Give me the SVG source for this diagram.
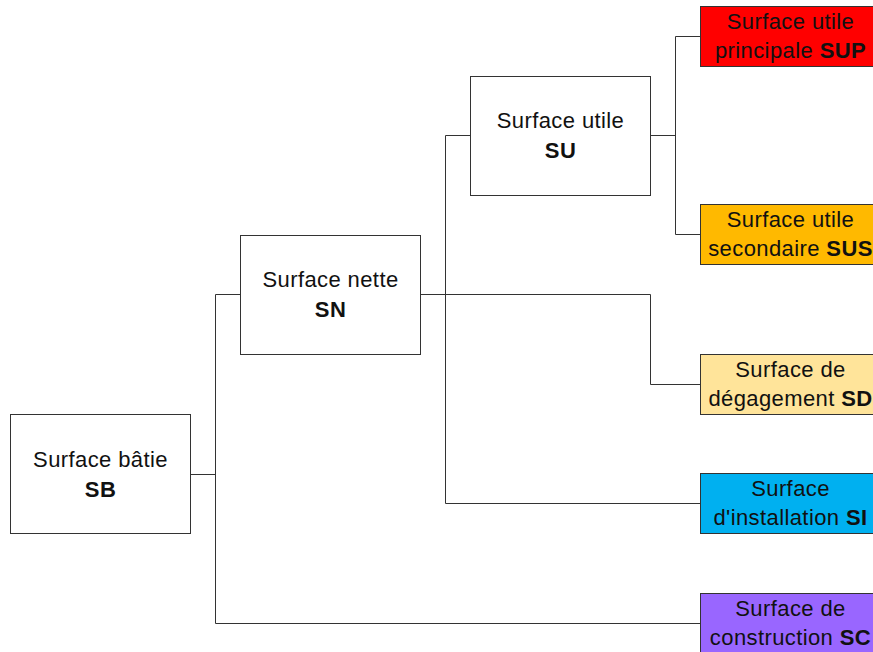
<svg xmlns="http://www.w3.org/2000/svg" width="873" height="652" viewBox="0 0 873 652">
<style>
.box{stroke:#333;stroke-width:1}
text{font-family:"Liberation Sans",Arial,sans-serif;font-size:22px;letter-spacing:0.4px;fill:#111;text-anchor:middle}
.b{font-weight:bold}
.c{fill:none;stroke:#333;stroke-width:1}
</style>
<rect width="873" height="652" fill="#fff"/>
<g id="connectors">
<polyline class="c" points="190.5,474.5 215.5,474.5"/>
<polyline class="c" points="240.5,294.5 215.5,294.5 215.5,623.5 700.5,623.5"/>
<polyline class="c" points="420.5,294.5 650.5,294.5 650.5,384.5 700.5,384.5"/>
<polyline class="c" points="470.5,135.5 445.5,135.5 445.5,503.5 700.5,503.5"/>
<polyline class="c" points="650.5,135.5 675.5,135.5"/>
<polyline class="c" points="700.5,36.5 675.5,36.5 675.5,234.5 700.5,234.5"/>
</g>
<g id="SB">
<rect class="box" x="10.5" y="414.5" width="180" height="119" fill="#fff"/>
<text x="100.5" y="467">Surface bâtie</text>
<text class="b" x="100.5" y="497">SB</text>
</g>
<g id="SN">
<rect class="box" x="240.5" y="235.5" width="180" height="119" fill="#fff"/>
<text x="330.5" y="287">Surface nette</text>
<text class="b" x="330.5" y="317">SN</text>
</g>
<g id="SU">
<rect class="box" x="470.5" y="76.5" width="180" height="119" fill="#fff"/>
<text x="560.5" y="128">Surface utile</text>
<text class="b" x="560.5" y="158">SU</text>
</g>
<g id="SUP">
<rect class="box" x="700.5" y="6.5" width="180" height="60" fill="#ff0000"/>
<text x="790.5" y="29">Surface utile</text>
<text x="790.5" y="58">principale <tspan class="b">SUP</tspan></text>
</g>
<g id="SUS">
<rect class="box" x="700.5" y="204.5" width="180" height="60" fill="#ffb900"/>
<text x="790.5" y="227">Surface utile</text>
<text x="790.5" y="256">secondaire <tspan class="b">SUS</tspan></text>
</g>
<g id="SD">
<rect class="box" x="700.5" y="354.5" width="180" height="60" fill="#ffe49a"/>
<text x="790.5" y="377">Surface de</text>
<text x="790.5" y="406">dégagement <tspan class="b">SD</tspan></text>
</g>
<g id="SI">
<rect class="box" x="700.5" y="473.5" width="180" height="60" fill="#00b0f0"/>
<text x="790.5" y="496">Surface</text>
<text x="790.5" y="525">d'installation <tspan class="b">SI</tspan></text>
</g>
<g id="SC">
<rect class="box" x="700.5" y="593.5" width="180" height="60" fill="#9966ff"/>
<text x="790.5" y="616">Surface de</text>
<text x="790.5" y="645">construction <tspan class="b">SC</tspan></text>
</g>
</svg>
